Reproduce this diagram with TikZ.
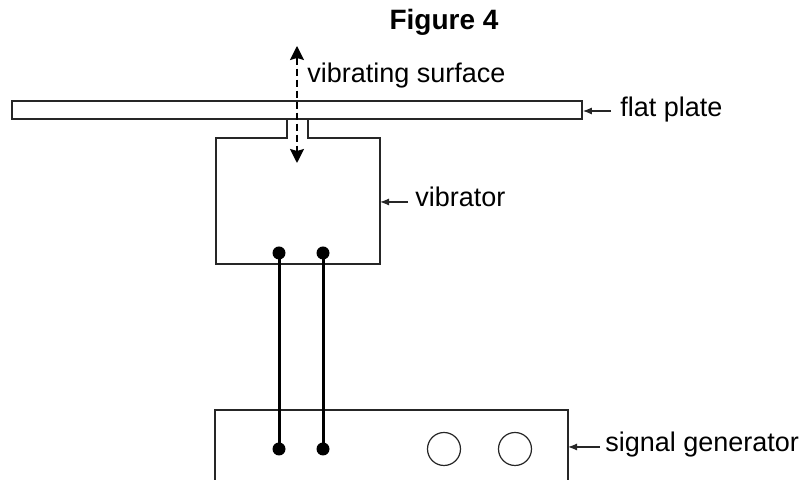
\documentclass[tikz,border=0pt]{standalone}
\usepackage{fontspec}
\setmainfont{Liberation Sans}
\usetikzlibrary{arrows.meta}
\begin{document}
\begin{tikzpicture}[x=0.5pt,y=-0.5pt,
	outline/.style={draw=black!85,line width=0.8pt},
	wire/.style={black,line width=1.5pt},
	terminal/.style={circle,fill=black,inner sep=0pt,minimum size=6.5pt},
	knob/.style={circle,draw=black!85,line width=0.6pt,inner sep=0pt,minimum size=16.5pt},
	lbl/.style={anchor=base west,inner sep=0pt,font=\fontsize{13.5}{16}\selectfont},
	pointer/.style={-{Latex[length=4.5pt,width=3.5pt]},line width=0.6pt,black!85},
	motion/.style={{Stealth[length=7pt,width=7pt,inset=1pt]}-{Stealth[length=7pt,width=7pt,inset=1pt]},line width=0.8pt,dash pattern=on 3.5pt off 2pt}]
	\useasboundingbox (0,0) rectangle (805,480);
	\node[inner sep=0pt,font=\bfseries\fontsize{14}{16}\selectfont] (title) at (444,22) {Figure 4};
	\node[outline,inner sep=0pt,minimum width=285pt,minimum height=9pt] (plate) at (297,110) {};
	\draw[outline] (287,119) -- (287,138) -- (216,138) -- (216,264) -- (380,264) -- (380,138) -- (308,138) -- (308,119);
	\coordinate (vibE) at (380,202);
	\draw[outline] (215,485) -- (215,410) -- (568,410) -- (568,485);
	\coordinate (genE) at (568,447);
	\node[terminal] (vt1) at (279,253) {};
	\node[terminal] (vt2) at (323,253) {};
	\node[terminal] (gt1) at (279,449) {};
	\node[terminal] (gt2) at (323,449) {};
	\draw[wire] (vt1.center) -- (gt1.center);
	\draw[wire] (vt2.center) -- (gt2.center);
	\node[knob] (k1) at (444,449) {};
	\node[knob] (k2) at (515,449) {};
	\coordinate (up) at (297,46);
	\coordinate (down) at (297,163);
	\draw[motion] (up) -- (down);
	\node[lbl] (surf) at (307,83) {vibrating surface};
	\node[lbl] (flat) at (620,117) {flat plate};
	\node[lbl] (vib) at (415,207) {vibrator};
	\node[lbl] (gen) at (605,452) {signal generator};
	\coordinate (flattail) at (611,111);
	\coordinate (vibtail) at (408,202);
	\coordinate (gentail) at (600,447);
	\draw[pointer] (flattail) -- (flattail -| plate.east);
	\draw[pointer] (vibtail) -- (vibE);
	\draw[pointer] (gentail) -- (genE);
\end{tikzpicture}
\end{document}
